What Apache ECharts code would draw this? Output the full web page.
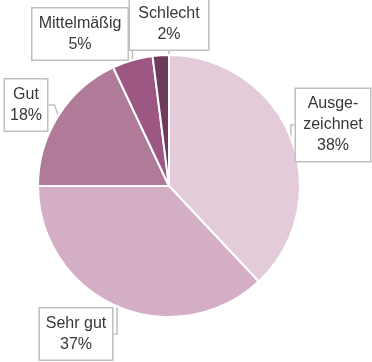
<!DOCTYPE html>
<html><head><meta charset="utf-8">
<script src="https://cdn.jsdelivr.net/npm/echarts@6/dist/echarts.min.js"></script>
<style>html,body{margin:0;padding:0;background:#fff}#c{width:372px;height:362px}</style>
</head><body><div id="c"></div>
<script>
const categories = ['Ausge-\nzeichnet', 'Sehr gut', 'Gut', 'Mittelmäßig', 'Schlecht'];
const values = [38, 37, 18, 5, 2];
const colors = ['#e3cbd9', '#d3aec4', '#b07b99', '#9c5782', '#6f3b5c'];
const labelPos = [[333, 125], [76, 334], [26, 105], [80, 34], [169, 24]];
const labelWidths = [62, 60, 30, 83, 66];

const chart = echarts.init(document.getElementById('c'));
chart.setOption({
  animation: false,
  series: [{
    type: 'pie',
    center: [169, 186],
    radius: [0, 131],
    startAngle: 90,
    clockwise: true,
    itemStyle: { borderColor: '#ffffff', borderWidth: 2 },
    data: categories.map((c, i) => ({
      name: c, value: values[i],
      itemStyle: { color: colors[i] },
      label: { width: labelWidths[i] }
    })),
    label: {
      show: true,
      formatter: '{b}\n{c}%',
      fontFamily: 'Liberation Sans, Arial, sans-serif',
      fontSize: 16,
      lineHeight: 21,
      color: '#383838',
      align: 'center',
      overflow: 'none',
      backgroundColor: '#ffffff',
      borderColor: '#bfbfbf',
      borderWidth: 1.5,
      padding: [5, 6, 4, 6]
    },
    labelLine: { show: true, length: 6, length2: 6, lineStyle: { color: '#bfbfbf', width: 1.5 } },
    labelLayout: function (p) {
      const pos = labelPos[p.dataIndex];
      return { x: pos[0], y: pos[1], align: 'center', verticalAlign: 'middle' };
    }
  }]
});
</script></body></html>
